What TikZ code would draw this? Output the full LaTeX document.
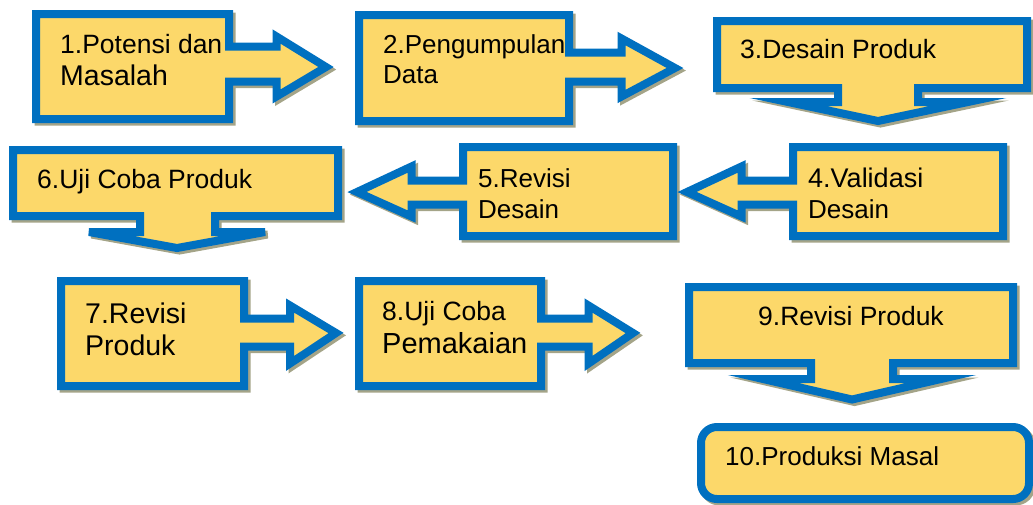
\documentclass[tikz,border=0pt]{standalone}
\usepackage{fontspec}
\setmainfont{Liberation Sans}
\definecolor{yel}{HTML}{FCD86A}
\definecolor{blu}{HTML}{0070C0}
\definecolor{shad}{HTML}{A4A488}
\tikzset{
  callout/.style={fill=yel, draw=blu, line width=8pt, line join=miter},
  shadowsty/.style={fill=shad, draw=shad, line width=8pt, line join=miter},
  lbl/.style={anchor=base west, inner sep=0pt, text=black},
}
\newcommand{\fsz}[1]{\fontsize{#1}{#1}\selectfont}
\newcommand{\callshape}[2][]{%
  \path[shadowsty, shift={(2.5,2.5)}, #1] #2;
  \path[callout, #1] #2;}
\begin{document}
\begin{tikzpicture}[x=1pt,y=-1pt]
\useasboundingbox (0,0) rectangle (1033,504);
\clip (0,0) rectangle (1033,504);
% 1
\callshape{(36,14) -- (229,14) -- (229,46.5) -- (276.5,46.5) -- (276.5,36.5) -- (326,67) -- (276.5,96.5) -- (276.5,81.5) -- (229,81.5) -- (229,119) -- (36,119) -- cycle}
\node[lbl] (t1a) at (60,53) {\fsz{26.5}1.Potensi dan};
\node[lbl] (t1b) at (60,85) {\fsz{28.5}Masalah};
% 2
\callshape{(359,15) -- (569,15) -- (569,52.5) -- (621.5,52.5) -- (621.5,38.5) -- (675,68) -- (621.5,96.5) -- (621.5,81.5) -- (569,81.5) -- (569,121) -- (359,121) -- cycle}
\node[lbl] (t2a) at (383,53) {\fsz{26}2.Pengumpulan};
\node[lbl] (t2b) at (383,83) {\fsz{26}Data};
% 3
\callshape{(717,21) -- (1027,21) -- (1027,88) -- (918,88) -- (918,102) -- (968,102) -- (878,121) -- (788,102) -- (838,102) -- (838,88) -- (717,88) -- cycle}
\node[lbl] (t3) at (740,58) {\fsz{26.5}3.Desain Produk};
% 6
\callshape{(13,150) -- (338,150) -- (338,216) -- (215,216) -- (215,232) -- (265,232) -- (177,248) -- (89,232) -- (140,232) -- (140,216) -- (13,216) -- cycle}
\node[lbl] (t6) at (37,188) {\fsz{26.5}6.Uji Coba Produk};
% 5
\callshape{(673,147) -- (673,236) -- (463,236) -- (463,204.5) -- (411.5,204.5) -- (411.5,216.5) -- (357,192) -- (411.5,166.5) -- (411.5,180.5) -- (463,180.5) -- (463,147) -- cycle}
\node[lbl] (t5a) at (478,187) {\fsz{26}5.Revisi};
\node[lbl] (t5b) at (478,218) {\fsz{26}Desain};
% 4
\callshape{(1003,147) -- (1003,236) -- (793,236) -- (793,204.5) -- (741.5,204.5) -- (741.5,216.5) -- (687,192) -- (741.5,166.5) -- (741.5,180.5) -- (793,180.5) -- (793,147) -- cycle}
\node[lbl] (t4a) at (808,187) {\fsz{27}4.Validasi};
\node[lbl] (t4b) at (808,218) {\fsz{26}Desain};
% 7
\callshape{(61,281) -- (244,281) -- (244,318.5) -- (290,318.5) -- (290,305.5) -- (336,333) -- (290,363.5) -- (290,346.5) -- (244,346.5) -- (244,386) -- (61,386) -- cycle}
\node[lbl] (t7a) at (85,323) {\fsz{28.5}7.Revisi};
\node[lbl] (t7b) at (85,355) {\fsz{28.5}Produk};
% 8
\callshape{(359,281) -- (541,281) -- (541,318.5) -- (588.5,318.5) -- (588.5,305.5) -- (633,333) -- (588.5,363.5) -- (588.5,346.5) -- (541,346.5) -- (541,386) -- (359,386) -- cycle}
\node[lbl] (t8a) at (382,320) {\fsz{26.5}8.Uji Coba};
\node[lbl] (t8b) at (382,353) {\fsz{29}Pemakaian};
% 9
\callshape{(689,287) -- (1013,287) -- (1013,363) -- (893,363) -- (893,379) -- (941,379) -- (852,399.5) -- (763,379) -- (811,379) -- (811,363) -- (689,363) -- cycle}
\node[lbl] (t9) at (758,325) {\fsz{26.5}9.Revisi Produk};
% 10
\callshape[rounded corners=16pt]{(701,427) rectangle (1029,499)}
\node[lbl] (t10) at (725,465) {\fsz{26}10.Produksi Masal};
\end{tikzpicture}
\end{document}
